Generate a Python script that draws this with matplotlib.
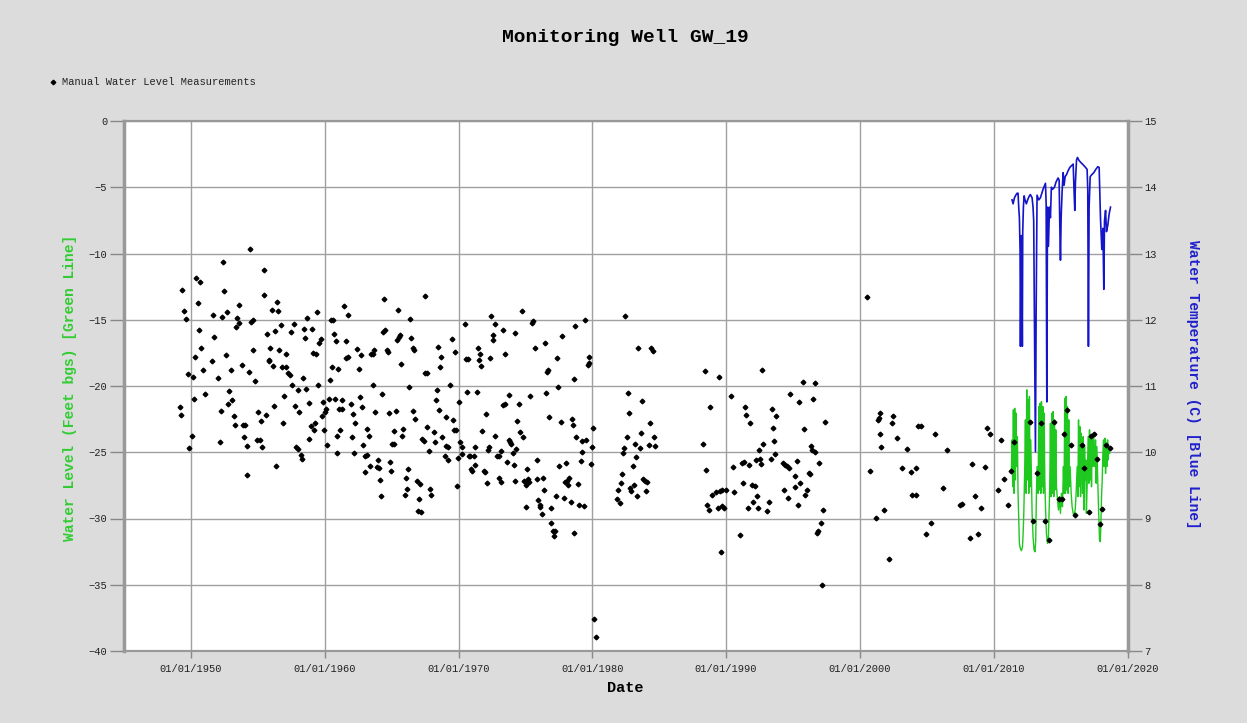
#!/usr/bin/env python3
"""Monitoring well GW_19: manual water levels, transducer level and temperature."""
import matplotlib
matplotlib.use("Agg")
import matplotlib.pyplot as plt
from matplotlib.lines import Line2D

MONO = "Liberation Mono"
BG = "#dcdcdc"
GRIDC = "#a0a0a0"
GREEN = "#1ec81e"
BLUE = "#1414c8"

# ---- manual water level measurements (decimal year, feet bgs) ----
manual_1949_1960 = [
    (1949.33, -12.77), (1949.48, -14.33), (1949.65, -14.94), (1949.75, -19.07), (1950.15, -19.32),
    (1949.15, -21.59), (1949.25, -22.17), (1950.07, -23.81), (1949.88, -24.71), (1950.25, -20.99),
    (1950.32, -17.84), (1950.40, -11.86), (1950.70, -12.17), (1950.52, -13.73), (1950.60, -15.80),
    (1950.77, -17.16), (1950.92, -18.82), (1951.02, -20.63), (1951.65, -14.64), (1951.75, -16.32),
    (1951.55, -18.09), (1952.05, -19.42), (1952.15, -24.26), (1952.25, -21.87), (1952.42, -10.65),
    (1952.50, -12.80), (1952.32, -14.76), (1952.72, -14.43), (1952.62, -17.66), (1953.00, -18.77),
    (1952.87, -20.38), (1952.80, -21.39), (1953.07, -21.06), (1953.22, -22.24), (1953.27, -22.98),
    (1953.62, -13.91), (1953.44, -14.84), (1953.62, -15.22), (1953.37, -15.57), (1953.79, -18.44),
    (1953.92, -22.93), (1954.07, -22.93), (1953.97, -23.83), (1954.17, -24.51), (1954.22, -26.71),
    (1954.32, -18.92), (1954.39, -9.67), (1954.52, -15.14), (1954.67, -14.99), (1954.62, -17.31),
    (1954.82, -19.62), (1955.44, -11.21), (1955.49, -13.10), (1955.67, -16.07), (1955.02, -21.97),
    (1955.24, -22.65), (1954.94, -24.06), (1955.14, -24.06), (1955.34, -24.61), (1955.59, -22.22),
    (1955.94, -17.16), (1956.04, -14.26), (1956.44, -13.63), (1956.54, -14.33), (1956.32, -15.82),
    (1955.87, -18.14), (1955.82, -18.01), (1956.12, -18.46), (1956.19, -21.54), (1956.36, -26.07),
    (1956.71, -15.39), (1956.61, -17.26), (1956.86, -22.80), (1956.96, -20.73), (1956.79, -18.54),
    (1957.11, -18.59), (1957.14, -17.56), (1957.24, -19.02), (1957.39, -19.17), (1957.46, -15.95),
    (1957.69, -15.32), (1957.56, -19.93), (1957.79, -21.49), (1958.11, -21.97), (1957.86, -24.61),
    (1957.99, -24.74), (1958.21, -25.19), (1958.31, -25.52), (1958.04, -20.28), (1958.36, -19.37),
    (1958.46, -15.69), (1958.54, -16.37), (1958.69, -14.84), (1958.61, -20.20), (1958.81, -21.26),
    (1958.96, -23.05), (1959.19, -23.30), (1959.29, -22.80), (1958.86, -24.01), (1959.04, -15.67),
    (1959.11, -17.51), (1959.36, -17.61), (1959.44, -14.43), (1959.56, -16.75), (1959.71, -16.42),
    (1959.51, -19.93), (1959.91, -21.21), (1959.96, -23.30), (1959.81, -22.24), (1960.11, -21.71),
    (1960.01, -21.94),
]
manual_1960_1971 = [
    (1960.18, -24.48), (1960.38, -19.57), (1960.48, -14.99), (1960.61, -14.99), (1960.51, -18.56),
    (1960.73, -16.10), (1960.98, -18.72), (1960.83, -16.57), (1960.31, -20.98), (1960.78, -20.98),
    (1961.16, -23.35), (1961.26, -21.08), (1961.08, -21.76), (1961.31, -21.76), (1960.91, -23.80),
    (1960.93, -25.04), (1961.46, -13.93), (1961.71, -14.61), (1961.61, -17.86), (1961.76, -17.81),
    (1961.56, -16.60), (1961.95, -21.39), (1962.10, -22.12), (1962.28, -22.77), (1962.03, -23.88),
    (1962.18, -25.04), (1962.43, -17.18), (1962.55, -18.69), (1962.70, -17.66), (1962.63, -20.83),
    (1962.80, -21.59), (1963.00, -25.27), (1963.18, -25.19), (1963.13, -23.28), (1963.28, -23.81),
    (1962.88, -24.48), (1963.03, -26.50), (1963.35, -26.02), (1963.45, -17.56), (1963.58, -17.56),
    (1963.70, -17.31), (1963.63, -19.95), (1963.78, -21.94), (1963.93, -26.12), (1964.08, -26.17),
    (1963.95, -25.59), (1964.10, -27.13), (1964.20, -28.31), (1964.28, -20.63), (1964.43, -13.43),
    (1964.38, -15.95), (1964.50, -15.77), (1964.65, -17.26), (1964.73, -17.43), (1964.78, -22.07),
    (1964.88, -25.77), (1964.95, -26.45), (1965.15, -23.43), (1965.05, -24.41), (1965.20, -24.41),
    (1965.30, -21.89), (1965.47, -14.28), (1965.40, -16.52), (1965.52, -16.30), (1965.65, -16.15),
    (1965.70, -18.36), (1965.85, -23.25), (1965.77, -23.78), (1965.97, -28.24), (1966.05, -26.93),
    (1966.12, -27.81), (1966.22, -26.27), (1966.27, -20.10), (1966.37, -14.91), (1966.45, -16.35),
    (1966.57, -17.15), (1966.70, -17.26), (1966.62, -21.86), (1966.77, -22.47), (1966.87, -27.15),
    (1967.12, -27.41), (1967.05, -28.54), (1966.97, -29.47), (1967.20, -29.50), (1967.47, -13.20),
    (1967.52, -19.04), (1967.67, -19.02), (1967.62, -23.07), (1967.27, -24.01), (1967.40, -24.16),
    (1967.82, -24.91), (1967.90, -27.81), (1967.97, -28.19), (1968.15, -23.48), (1968.25, -24.23),
    (1968.32, -21.08), (1968.37, -20.33), (1968.47, -17.08), (1968.72, -17.84), (1968.64, -18.59),
    (1968.57, -21.84), (1968.79, -23.83), (1969.04, -22.32), (1968.99, -25.29), (1969.07, -24.51),
    (1969.22, -24.61), (1969.24, -25.57), (1969.39, -19.95), (1969.49, -16.47), (1969.59, -22.57),
    (1969.64, -23.33), (1969.74, -17.43), (1969.79, -23.30), (1969.89, -27.53), (1969.99, -25.44),
    (1970.07, -21.21), (1970.14, -24.21), (1970.24, -24.61), (1970.29, -25.11), (1970.47, -15.34),
    (1970.56, -17.99), (1970.69, -17.99), (1970.64, -20.45), (1970.76, -25.27),
]
manual_1971_1980 = [
    (1972.46, -14.75), (1972.71, -15.35), (1972.56, -16.15), (1972.61, -16.55), (1973.36, -15.80),
    (1974.26, -16.00), (1974.71, -14.37), (1975.46, -15.25), (1975.58, -15.13), (1975.73, -17.13),
    (1976.46, -16.75), (1976.63, -18.96), (1976.68, -18.81), (1977.35, -17.86), (1977.70, -16.25),
    (1978.65, -19.49), (1978.70, -15.50), (1979.45, -15.03), (1979.73, -17.81), (1979.78, -18.23),
    (1979.65, -18.41), (1971.44, -17.13), (1971.61, -17.58), (1971.51, -18.01), (1971.71, -18.46),
    (1972.36, -17.91), (1973.46, -17.61), (1971.36, -20.44), (1973.74, -20.66), (1973.51, -21.39),
    (1973.31, -21.44), (1974.53, -21.39), (1975.38, -20.76), (1976.53, -20.54), (1977.43, -20.09),
    (1972.04, -22.12), (1974.38, -22.67), (1974.63, -23.47), (1974.81, -23.87), (1976.78, -22.32),
    (1977.63, -22.72), (1978.45, -22.49), (1978.58, -22.97), (1978.78, -23.87), (1979.25, -24.17),
    (1979.53, -24.10), (1980.02, -23.14), (1979.98, -24.60), (1979.23, -24.97), (1979.15, -25.65),
    (1979.88, -25.85), (1971.79, -23.42), (1972.76, -23.80), (1971.26, -24.60), (1970.89, -25.27),
    (1971.14, -25.27), (1972.29, -24.60), (1972.21, -24.85), (1972.89, -25.30), (1972.99, -25.30),
    (1973.21, -24.87), (1973.78, -24.10), (1973.93, -24.35), (1973.86, -24.22), (1974.08, -25.07),
    (1974.31, -24.77), (1974.16, -25.98), (1973.59, -25.73), (1975.83, -25.55), (1975.13, -26.30),
    (1977.53, -26.03), (1978.03, -25.78), (1971.21, -25.93), (1970.96, -26.28), (1971.04, -26.45),
    (1971.91, -26.43), (1971.99, -26.48), (1972.14, -27.35), (1973.06, -26.98), (1973.14, -27.25),
    (1974.21, -27.15), (1974.91, -27.15), (1975.21, -27.03), (1975.26, -27.23), (1975.01, -27.48),
    (1975.83, -27.03), (1976.28, -26.98), (1976.38, -27.86), (1977.28, -28.31), (1977.88, -28.43),
    (1977.98, -27.25), (1978.10, -27.18), (1978.23, -26.93), (1978.20, -27.48), (1978.90, -27.38),
    (1978.40, -28.78), (1979.03, -28.96), (1979.38, -29.06), (1975.06, -29.13), (1975.93, -28.63),
    (1976.08, -28.98), (1976.06, -29.16), (1976.88, -29.23), (1976.21, -29.69), (1976.95, -30.36),
    (1977.07, -30.92), (1977.20, -30.92), (1977.12, -31.34), (1978.64, -31.09),
]
manual_1980_1985 = [
    (1980.11, -37.56), (1980.24, -38.97),
    (1982.47, -14.70), (1983.44, -17.11), (1984.42, -17.11), (1984.52, -17.38), (1982.65, -20.56),
    (1983.74, -21.16), (1982.75, -22.07), (1984.32, -22.79), (1983.62, -23.57), (1982.57, -23.87),
    (1984.59, -23.87), (1983.19, -24.37), (1983.54, -24.65), (1984.22, -24.45), (1984.67, -24.52),
    (1982.37, -24.65), (1982.30, -25.05), (1983.29, -25.35), (1983.02, -26.05), (1982.22, -26.63),
    (1982.15, -27.33), (1981.92, -27.83), (1981.82, -28.53), (1982.05, -28.83), (1983.12, -27.45),
    (1982.80, -27.71), (1982.87, -27.93), (1983.79, -27.05), (1983.94, -27.20), (1984.12, -27.23),
    (1983.99, -27.93), (1983.37, -28.33),
]
manual_1988_1997 = [
    (1988.41, -18.88), (1989.46, -19.31), (1992.68, -18.76), (1995.72, -19.69), (1996.67, -19.74),
    (1988.76, -21.59), (1990.33, -20.74), (1991.41, -21.57), (1991.48, -22.19), (1991.76, -22.82),
    (1993.45, -21.72), (1993.75, -22.24), (1994.78, -20.64), (1995.45, -21.21), (1996.50, -20.99),
    (1988.31, -24.37), (1988.49, -26.33), (1993.50, -23.19), (1993.60, -24.12), (1992.75, -24.37),
    (1992.45, -24.80), (1992.21, -25.55), (1992.51, -25.53), (1992.63, -25.90), (1993.38, -25.53),
    (1993.68, -25.15), (1995.80, -23.25), (1996.35, -24.55), (1996.42, -24.80), (1996.62, -24.95),
    (1996.97, -25.78), (1990.48, -26.10), (1991.21, -25.83), (1991.36, -25.75), (1991.68, -25.93),
    (1994.23, -25.83), (1994.38, -25.93), (1994.53, -26.00), (1994.73, -26.20), (1995.30, -25.68),
    (1995.13, -26.83), (1995.53, -27.30), (1996.20, -26.60), (1996.25, -26.63), (1991.28, -27.30),
    (1991.91, -27.50), (1992.13, -27.53), (1992.28, -28.31), (1992.03, -28.76), (1991.63, -29.18),
    (1992.36, -29.18), (1993.18, -28.78), (1993.08, -29.46), (1994.33, -27.88), (1994.65, -28.48),
    (1995.18, -27.66), (1995.87, -28.23), (1996.05, -27.86), (1995.38, -28.98), (1988.96, -28.23),
    (1989.26, -28.03), (1989.51, -27.91), (1989.68, -27.86), (1989.98, -27.83), (1990.56, -28.03),
    (1988.59, -28.98), (1988.69, -29.38), (1989.36, -29.21), (1989.71, -29.03), (1989.81, -29.18),
    (1991.02, -31.27), (1989.64, -32.55), (1996.78, -31.12), (1996.86, -30.92), (1997.08, -30.37),
    (1997.26, -29.36), (1997.18, -35.00),
]
manual_1997_2019 = [
    (1997.41, -22.68), (2000.50, -13.29), (2001.52, -22.05), (2001.42, -22.43), (2001.37, -22.56),
    (2002.49, -22.28), (2002.37, -22.76), (2001.52, -23.59), (2001.60, -24.57), (2002.77, -23.92),
    (2003.52, -24.77), (2000.75, -26.39), (2003.17, -26.18), (2003.79, -26.51), (2004.21, -26.21),
    (2003.87, -28.25), (2004.19, -28.20), (2001.80, -29.36), (2001.22, -29.99), (2002.17, -33.09),
    (2004.36, -23.01), (2004.56, -22.99), (2005.64, -23.61), (2006.51, -24.82), (2006.24, -27.72),
    (2005.31, -30.37), (2004.91, -31.20), (2007.48, -28.98), (2007.63, -28.90), (2008.58, -28.30),
    (2008.36, -25.91), (2009.33, -26.11), (2009.08, -29.21), (2008.21, -31.50), (2008.85, -31.20),
    (2009.53, -23.16), (2009.75, -23.59), (2010.55, -24.04), (2010.33, -27.85), (2010.77, -27.04),
    (2011.30, -26.44), (2011.05, -28.96), (2011.52, -24.22), (2012.72, -22.68), (2012.94, -30.19),
    (2013.24, -26.59), (2013.54, -22.76), (2013.87, -30.16), (2014.12, -31.63), (2014.47, -22.68),
    (2014.89, -28.53), (2015.11, -28.53), (2015.29, -23.64), (2015.46, -21.83), (2015.74, -24.42),
    (2016.06, -29.76), (2016.63, -24.42), (2016.76, -26.18), (2017.11, -29.51), (2017.26, -23.74),
    (2017.46, -23.61), (2017.73, -25.50), (2017.93, -30.44), (2018.13, -29.31), (2018.41, -24.42),
    (2018.68, -24.70),
]

# ---- continuous water level (green line) ----
level_line = [
    (2011.32, -26.46), (2011.37, -24.07), (2011.42, -27.60), (2011.47, -21.80), (2011.52, -28.10),
    (2011.57, -21.68), (2011.62, -27.09), (2011.67, -22.05), (2011.72, -26.08), (2011.77, -23.82),
    (2011.82, -28.10), (2011.87, -30.11), (2011.92, -31.88), (2011.99, -32.26), (2012.07, -32.43),
    (2012.15, -32.13), (2012.20, -31.12), (2012.25, -29.61), (2012.32, -26.08), (2012.37, -22.56),
    (2012.42, -28.10), (2012.47, -20.29), (2012.52, -27.09), (2012.57, -21.05), (2012.62, -28.10),
    (2012.67, -20.79), (2012.72, -27.60), (2012.77, -24.07), (2012.82, -27.09), (2012.87, -29.61),
    (2012.94, -31.37), (2013.02, -32.38), (2013.09, -32.51), (2013.14, -31.63), (2013.19, -28.35),
    (2013.24, -26.08), (2013.32, -28.10), (2013.37, -21.55), (2013.42, -27.85), (2013.47, -21.30),
    (2013.52, -28.10), (2013.57, -21.17), (2013.62, -27.60), (2013.67, -21.55), (2013.72, -28.10),
    (2013.77, -22.05), (2013.82, -27.09), (2013.87, -29.11), (2013.94, -31.12), (2014.02, -31.88),
    (2014.09, -31.37), (2014.14, -29.61), (2014.19, -27.60), (2014.24, -22.81), (2014.29, -28.35),
    (2014.34, -22.05), (2014.39, -28.10), (2014.44, -21.93), (2014.49, -28.35), (2014.54, -22.56),
    (2014.59, -27.85), (2014.64, -23.31), (2014.69, -27.60), (2014.77, -28.60), (2014.84, -29.36),
    (2014.91, -28.35), (2014.99, -29.61), (2015.06, -28.10), (2015.14, -29.11), (2015.21, -26.08),
    (2015.26, -28.10), (2015.31, -20.92), (2015.36, -28.10), (2015.41, -20.79), (2015.46, -27.85),
    (2015.51, -21.55), (2015.56, -28.10), (2015.61, -22.56), (2015.66, -27.60), (2015.71, -26.08),
    (2015.79, -28.10), (2015.86, -29.11), (2015.94, -29.61), (2016.01, -29.74), (2016.09, -29.36),
    (2016.16, -28.10), (2016.24, -26.08), (2016.29, -28.35), (2016.34, -22.56), (2016.39, -27.60),
    (2016.44, -23.06), (2016.49, -28.35), (2016.54, -23.56), (2016.59, -26.08), (2016.64, -28.10),
    (2016.69, -23.82), (2016.74, -29.36), (2016.79, -24.57), (2016.84, -27.09), (2016.88, -25.58),
    (2016.93, -29.61), (2016.98, -27.60), (2017.06, -23.82), (2017.11, -27.34), (2017.16, -23.31),
    (2017.21, -27.09), (2017.26, -23.82), (2017.31, -27.60), (2017.36, -24.07), (2017.41, -26.08),
    (2017.46, -23.82), (2017.51, -25.08), (2017.56, -26.08), (2017.61, -24.07), (2017.66, -27.34),
    (2017.71, -24.57), (2017.76, -26.59), (2017.81, -28.35), (2017.86, -30.11), (2017.91, -31.63),
    (2017.96, -31.75), (2018.01, -30.62), (2018.06, -28.35), (2018.11, -27.09), (2018.16, -25.08),
    (2018.21, -24.07), (2018.26, -26.08), (2018.31, -23.94), (2018.36, -26.59), (2018.41, -24.32),
    (2018.46, -26.08), (2018.51, -24.07), (2018.56, -25.58), (2018.61, -24.57), (2018.66, -25.08),
]

# ---- water temperature (blue line, deg C) ----
temp_line = [
    (2011.37, 13.81), (2011.45, 13.75), (2011.55, 13.84), (2011.65, 13.88), (2011.75, 13.91),
    (2011.82, 13.91), (2011.87, 13.70), (2011.92, 13.54), (2011.97, 13.06), (2012.00, 11.60),
    (2012.05, 13.27), (2012.10, 12.84), (2012.14, 11.60), (2012.17, 13.33), (2012.22, 13.70),
    (2012.27, 13.87), (2012.34, 13.81), (2012.44, 13.75), (2012.54, 13.81), (2012.64, 13.86),
    (2012.74, 13.89), (2012.87, 13.84), (2012.94, 13.70), (2012.99, 13.49), (2013.04, 12.09),
    (2013.12, 10.01), (2013.17, 12.09), (2013.24, 13.88), (2013.37, 13.81), (2013.49, 13.84),
    (2013.69, 13.97), (2013.87, 14.06), (2013.92, 13.75), (2013.97, 10.76), (2014.02, 13.70),
    (2014.09, 13.11), (2014.17, 13.70), (2014.24, 13.54), (2014.31, 14.00), (2014.41, 13.97),
    (2014.54, 14.00), (2014.66, 14.08), (2014.81, 14.14), (2014.89, 14.11), (2014.94, 13.43),
    (2014.99, 12.90), (2015.04, 13.54), (2015.11, 13.92), (2015.19, 14.22), (2015.26, 14.03),
    (2015.34, 14.16), (2015.44, 14.19), (2015.54, 14.24), (2015.69, 14.30), (2015.84, 14.33),
    (2015.94, 14.35), (2016.01, 13.92), (2016.06, 13.65), (2016.11, 14.08), (2016.19, 14.41),
    (2016.26, 14.45), (2016.36, 14.41), (2016.48, 14.38), (2016.68, 14.34), (2016.86, 14.30),
    (2016.98, 14.27), (2017.03, 13.97), (2017.08, 11.60), (2017.13, 13.70), (2017.21, 14.16),
    (2017.33, 14.19), (2017.48, 14.22), (2017.63, 14.27), (2017.78, 14.31), (2017.88, 14.30),
    (2017.98, 13.54), (2018.08, 13.06), (2018.16, 13.38), (2018.23, 12.46), (2018.28, 13.49),
    (2018.36, 13.65), (2018.43, 13.33), (2018.53, 13.43), (2018.63, 13.60), (2018.73, 13.70),
]

decades = [1950, 1960, 1970, 1980, 1990, 2000, 2010, 2020]
level_ticks = [0, -5, -10, -15, -20, -25, -30, -35, -40]
temp_ticks = [7, 8, 9, 10, 11, 12, 13, 14, 15]

manual = (manual_1949_1960 + manual_1960_1971 + manual_1971_1980 + manual_1980_1985
          + manual_1988_1997 + manual_1997_2019)
mx, my = zip(*manual)
gx, gy = zip(*level_line)
tx, ty = zip(*temp_line)

W, H = 1247, 723
fig = plt.figure(figsize=(W / 100, H / 100), dpi=100, facecolor=BG)
ax = fig.add_axes([124 / W, 1 - 651 / H, (1127.5 - 124) / W, (651 - 121) / H])
ax.set_facecolor("white")

ax.plot(gx, gy, color=GREEN, lw=1.0, zorder=3)
ax.plot(mx, my, ls="none", marker="D", ms=2.4, color="black", zorder=4)

ax.set_xlim(1945, 2020)
ax.set_ylim(-40, 0)
ax.set_xticks(decades)
ax.set_xticklabels([f"01/01/{d}" for d in decades])
ax.set_yticks(level_ticks)
ax.grid(True, color=GRIDC, lw=1)
ax.set_axisbelow(True)

ax2 = ax.twinx()
ax2.plot(tx, ty, color=BLUE, lw=1.2, zorder=3)
ax2.set_ylim(7, 15)
ax2.set_yticks(temp_ticks)

for a in (ax, ax2):
    for sp in a.spines.values():
        sp.set_color("#999999"); sp.set_linewidth(1.5)
    a.tick_params(axis="y", length=10, width=1, color="#888888", pad=2)
    a.tick_params(axis="x", length=5, width=1, color="#888888", pad=4)
    for lbl in a.get_xticklabels() + a.get_yticklabels():
        lbl.set_fontfamily(MONO); lbl.set_fontsize(7.5); lbl.set_color("#222222")
ax.spines["left"].set_linewidth(2.5)
ax2.spines["right"].set_linewidth(2.5)

fig.text(625 / W, 1 - 37 / H, "Monitoring Well GW_19", family=MONO, weight="bold",
         size=14, ha="center", va="center")
fig.text(625 / W, 1 - 688 / H, "Date", family=MONO, weight="bold", size=11,
         ha="center", va="center")
fig.text(70 / W, 1 - 388 / H, "Water Level (Feet bgs) [Green Line]", family=MONO,
         weight="bold", size=10.5, color="#33cc33", rotation=90, ha="center", va="center")
fig.text(1193 / W, 1 - 384 / H, "Water Temperature (C) [Blue Line]", family=MONO,
         weight="bold", size=10.5, color="#2020cc", rotation=270, ha="center", va="center")

# legend entry for the manual measurements
fig.add_artist(Line2D([53 / W], [1 - 82 / H], marker="D", ms=2.3, color="black",
                      transform=fig.transFigure))
fig.text(62 / W, 1 - 82 / H, "Manual Water Level Measurements", family=MONO, size=7.5,
         color="#222222", va="center")

fig.savefig("out.png", dpi=100, facecolor=BG)
